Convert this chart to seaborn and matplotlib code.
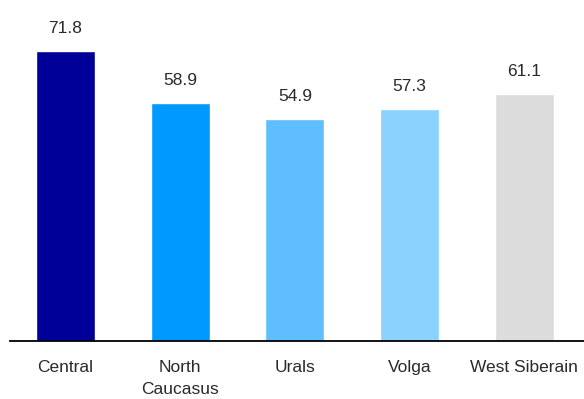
import matplotlib
matplotlib.use("Agg")
import matplotlib.pyplot as plt
import seaborn as sns
import pandas as pd

categories = ["Central", "North\nCaucasus", "Urals", "Volga", "West Siberain"]
values = [71.8, 58.9, 54.9, 57.3, 61.1]
colors = ["#000099", "#0099FF", "#5EBEFF", "#8CD2FF", "#DCDCDC"]

sns.set_theme(style="white")
plt.rcParams['font.family'] = ['Liberation Sans', 'DejaVu Sans']

df = pd.DataFrame({"region": categories, "value": values})

fig = plt.figure(figsize=(5.84, 3.99), dpi=100)
ax = fig.add_axes([10/584, 58/399, 574/584, 341/399])
sns.barplot(data=df, x="region", y="value", hue="region", palette=colors,
            width=0.515, saturation=1, legend=False, ax=ax)

for i, v in enumerate(values):
    ax.annotate(f"{v:.1f}", (i, v), xytext=(0, 11), textcoords="offset points",
                ha="center", va="bottom", fontsize=12.5, color="#2a2a2a")

ax.set_xlim(-0.484, 4.52)
ax.set_ylim(0, 84.4)
ax.set_xlabel("")
ax.set_ylabel("")
ax.set_yticks([])
for s in ["top", "right", "left"]:
    ax.spines[s].set_visible(False)
ax.spines["bottom"].set_color("black")
ax.spines["bottom"].set_linewidth(1.3)
ax.tick_params(axis="x", length=0, pad=13.5, labelsize=12.5, labelcolor="#2a2a2a")
for lbl in ax.get_xticklabels():
    lbl.set_verticalalignment("top")
    lbl.set_linespacing(1.6)

fig.savefig("out.png", dpi=100)
